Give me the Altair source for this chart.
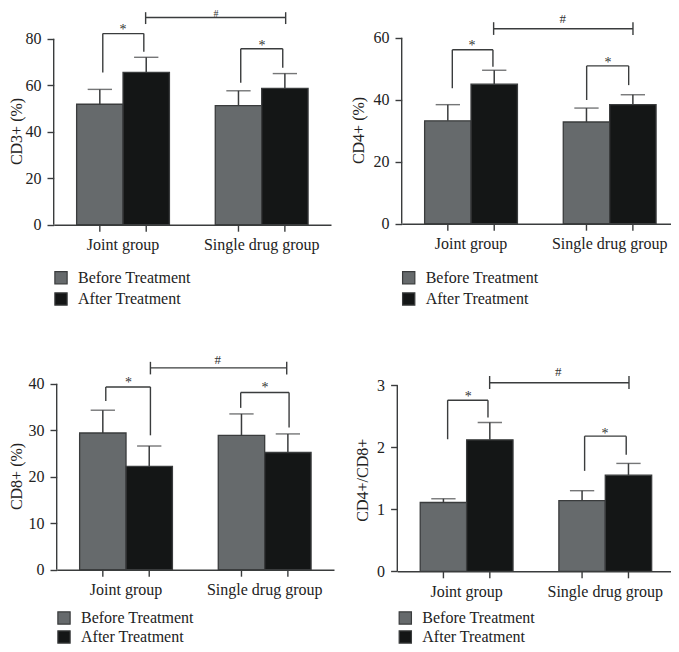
import altair as alt
import pandas as pd

groups = ["Joint group", "Single drug group"]
series = ["Before Treatment", "After Treatment"]
FILL = ["#666a6c", "#141616"]
LINE = "#3a3c3d"
FONT = "Liberation Serif"

# mean / upper error end, order: Joint-Before, Joint-After, Single-Before, Single-After
cd3_mean = [51.8, 65.5, 51.2, 58.6]
cd3_top = [58.2, 72.0, 57.6, 65.0]
cd4_mean = [33.2, 45.0, 32.8, 38.4]
cd4_top = [38.4, 49.5, 37.3, 41.6]
cd8_mean = [29.4, 22.2, 28.9, 25.2]
cd8_top = [34.3, 26.6, 33.5, 29.2]
ratio_mean = [1.11, 2.12, 1.14, 1.55]
ratio_top = [1.17, 2.40, 1.30, 1.74]

# brackets: x-left, x-right (in group widths), y-top, y-left-end, y-right-end
cd3_brackets = [[.354, .650, 82.2, 65.5, 74.4], [1.349, 1.652, 75.7, 61.1, 67.5]]
cd4_brackets = [[.365, .658, 56.1, 43.7, 50.6], [1.334, 1.637, 50.9, 39.9, 44.7]]
cd8_brackets = [[.354, .676, 39.3, 36.3, 28.9], [1.327, 1.676, 38.1, 34.8, 30.6]]
ratio_brackets = [[.363, .654, 2.76, 2.13, 2.48], [1.351, 1.651, 2.18, 1.62, 1.88]]
# hash bracket: x-left, x-right, y-line, y-leg-top, y-leg-bottom
cd3_hash = [.663, 1.673, 89.1, 91.4, 86.3]
cd4_hash = [.663, 1.668, 62.9, 65.0, 60.9]
cd8_hash = [.676, 1.659, 43.4, 44.7, 42.0]
ratio_hash = [.666, 1.671, 3.04, 3.15, 2.94]
# marks: text, x, y
cd3_marks = [["*", .500, 83.8], ["*", 1.503, 76.9], ["#", 1.171, 90.67]]
cd4_marks = [["*", .507, 57.4], ["*", 1.488, 52.0], ["#", 1.161, 65.9]]
cd8_marks = [["*", .517, 40.2], ["*", 1.502, 39.0], ["#", 1.161, 45.1]]
ratio_marks = [["*", .512, 2.81], ["*", 1.498, 2.22], ["#", 1.161, 3.22]]

CELL_W, CELL_H, PLOT_W, UNIT_H = 286, 218, 277.3, 186


def panel(title, tick_values, means, tops, brackets, hash_b, marks,
          dx, base, title_x, title_y, legend_x, legend_y, row_pad=3.3, hash_size=13):
    top_val = tick_values[-1]
    dmax = top_val * base / UNIT_H
    bars = pd.DataFrame({
        "group": [g for g in groups for _ in series],
        "series": series * 2,
        "mean": means,
        "top": tops,
    })
    segs = []
    for i, (x0, x1, yt, y0, y1) in enumerate(brackets):
        segs += [dict(x=x0, x2=x0, y=y0, y2=yt), dict(x=x0, x2=x1, y=yt, y2=yt),
                 dict(x=x1, x2=x1, y=yt, y2=y1)]
    x0, x1, yl, lt, lb = hash_b
    segs += [dict(x=x0, x2=x1, y=yl, y2=yl), dict(x=x0, x2=x0, y=lt, y2=lb),
             dict(x=x1, x2=x1, y=lt, y2=lb)]
    segs = pd.DataFrame(segs)
    txt = pd.DataFrame(marks, columns=["t", "x", "y"])
    axis_line = pd.DataFrame({"a": [0], "b": [top_val]})

    yscale = alt.Scale(domain=[0, dmax], range=[base, 0], nice=False, zero=False)
    xband = alt.Scale(domain=groups, range=[dx, dx + PLOT_W], paddingInner=0, paddingOuter=0)
    xnum = alt.Scale(domain=[0, 2], range=[dx, dx + PLOT_W], nice=False, zero=False)
    xoff = alt.XOffset("series:N", sort=series,
                       scale=alt.Scale(domain=series, paddingOuter=0.494, paddingInner=0))
    X = lambda **k: alt.X("group:N", sort=groups, scale=xband, **k)
    yaxis = alt.Axis(
        values=tick_values, title=title, titleFont=FONT, titleFontSize=16,
        titleFontWeight="normal", titleColor="#222", titleX=title_x, titleY=title_y,
        labelFont=FONT, labelFontSize=16, labelColor="#222", labelPadding=6,
        tickSize=6.7, tickColor=LINE, tickWidth=1.4, domain=False, grid=False,
        offset=-dx, format="d")
    Y = lambda f: alt.Y(f, type="quantitative", scale=yscale, axis=yaxis)

    bar = alt.Chart(bars).mark_bar(stroke=LINE, strokeWidth=1.3, size=46.4).encode(
        x=X(axis=alt.Axis(title=None, labelAngle=0, ticks=False, domain=True, domainColor=LINE,
                          domainWidth=1.4, labelFont=FONT, labelFontSize=16, labelColor="#222",
                          labelPadding=12, grid=False, offset=-(CELL_H - base))),
        xOffset=xoff,
        y=Y("mean"),
        color=alt.Color("series:N", sort=series, scale=alt.Scale(domain=series, range=FILL),
                        legend=alt.Legend(orient="none", legendX=legend_x, legendY=legend_y, title=None,
                                          symbolType="square", symbolSize=150, symbolStrokeColor=LINE,
                                          symbolStrokeWidth=1.2, labelFont=FONT, labelFontSize=16,
                                          labelColor="#222", labelOffset=9, rowPadding=row_pad)),
    )
    stem = alt.Chart(bars).mark_rule(color=LINE, strokeWidth=1.5).encode(
        x=X(axis=None), xOffset=xoff, y=Y("mean"), y2="top:Q")
    cap = alt.Chart(bars).mark_tick(color=LINE, thickness=1.4, size=24.3, orient="horizontal").encode(
        x=X(axis=None), xOffset=xoff, y=Y("top"))
    xtick = alt.Chart(bars).mark_rule(color=LINE, strokeWidth=1.4).encode(
        x=X(axis=None), xOffset=xoff, y=alt.value(base), y2=alt.value(base + 7))
    yline = alt.Chart(axis_line).mark_rule(color=LINE, strokeWidth=1.4).encode(
        x=alt.value(dx), y=Y("a"), y2="b:Q")
    seg = alt.Chart(segs).mark_rule(color=LINE, strokeWidth=1.4).encode(
        x=alt.X("x:Q", scale=xnum, axis=None), x2="x2:Q", y=Y("y"), y2="y2:Q")
    stars = alt.Chart(txt[txt.t == "*"]).mark_text(font=FONT, fontSize=14, color="#333", baseline="middle").encode(
        x=alt.X("x:Q", scale=xnum, axis=None), y=Y("y"), text="t:N")
    hashes = alt.Chart(txt[txt.t == "#"]).mark_text(font=FONT, fontSize=hash_size, color="#333", baseline="middle").encode(
        x=alt.X("x:Q", scale=xnum, axis=None), y=Y("y"), text="t:N")

    return alt.layer(bar, stem, cap, xtick, yline, seg, stars, hashes).resolve_scale(
        x="independent").properties(width=CELL_W, height=CELL_H)


p1 = panel("CD3+ (%)", [0, 20, 40, 60, 80], cd3_mean, cd3_top, cd3_brackets, cd3_hash, cd3_marks,
           3.7, 216.7, -29.7, 123, 3, 261.7, hash_size=10)
p2 = panel("CD4+ (%)", [0, 20, 40, 60], cd4_mean, cd4_top, cd4_brackets, cd4_hash, cd4_marks,
           8.7, 215.7, -35.4, 122, 7.7, 261.7)
p3 = panel("CD8+ (%)", [0, 10, 20, 30, 40], cd8_mean, cd8_top, cd8_brackets, cd8_hash, cd8_marks,
           6.7, 215.7, -32.7, 122, 6, 256, row_pad=1)
p4 = panel("CD4+/CD8+", [0, 1, 2, 3], ratio_mean, ratio_top, ratio_brackets, ratio_hash, ratio_marks,
           4.3, 217.3, -26.6, 125.7, 4.3, 256, row_pad=1)

chart = alt.concat(p1, p2, p3, p4, columns=2, spacing=alt.RowColnumber(column=57, row=128),
                   bounds="flush").resolve_scale(color="independent").configure_view(stroke=None).properties(
    autosize=alt.AutoSizeParams(type="none", contains="content"),
    padding={"left": 42, "top": 0, "right": 621, "bottom": 636}, background="white")

chart.save("out.html", embed_options={"renderer": "svg", "actions": False})
